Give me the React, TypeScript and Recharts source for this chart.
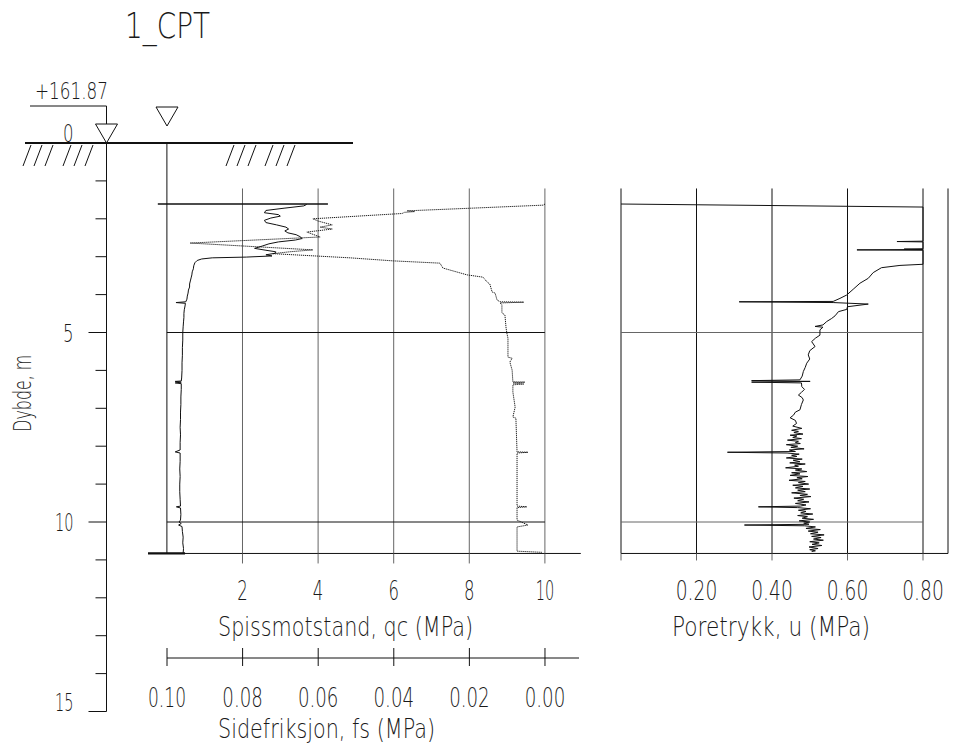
import React from "react";
import {
  CartesianGrid,
  ComposedChart,
  ReferenceLine,
  Scatter,
  XAxis,
  YAxis,
} from "recharts";

// CPT sounding, [depth (m), value]
const QC_PROFILE: [number, number][] = [
  [1.62, 3.7], [1.66, 3.62], [1.72, 3.1], [1.78, 2.62], [1.84, 2.58], [1.89, 2.95],
  [1.93, 3.0], [1.98, 2.75], [2.04, 2.58], [2.1, 2.62], [2.16, 2.9], [2.22, 3.15],
  [2.27, 3.22], [2.32, 3.12], [2.37, 3.2], [2.42, 3.42], [2.47, 3.52], [2.52, 3.58],
  [2.56, 3.4], [2.61, 2.95], [2.66, 2.7], [2.72, 2.52], [2.78, 2.32], [2.83, 2.62],
  [2.87, 2.88], [2.91, 2.86], [2.95, 2.62], [2.98, 2.78], [3.01, 2.1], [3.03, 1.2],
  [3.06, 0.92], [3.1, 0.8], [3.16, 0.74], [3.24, 0.71], [3.32, 0.7], [3.4, 0.67],
  [3.48, 0.66], [3.56, 0.64], [3.64, 0.62], [3.72, 0.6], [3.8, 0.6], [3.88, 0.57],
  [3.96, 0.56], [4.04, 0.54], [4.12, 0.53], [4.19, 0.5], [4.21, 0.24], [4.23, 0.49],
  [4.3, 0.48], [4.4, 0.46], [4.5, 0.45], [4.6, 0.45], [4.72, 0.44], [4.85, 0.43],
  [5.0, 0.42], [5.2, 0.42], [5.4, 0.41], [5.6, 0.41], [5.8, 0.4], [6.0, 0.4],
  [6.2, 0.39], [6.28, 0.38], [6.29, 0.22], [6.31, 0.38], [6.33, 0.22], [6.35, 0.38],
  [6.5, 0.38], [6.7, 0.37], [6.9, 0.37], [7.1, 0.36], [7.3, 0.36], [7.5, 0.35],
  [7.7, 0.36], [7.9, 0.35], [8.1, 0.35], [8.15, 0.22], [8.18, 0.35], [8.4, 0.35],
  [8.6, 0.34], [8.8, 0.35], [9.0, 0.34], [9.2, 0.34], [9.4, 0.35], [9.58, 0.36],
  [9.6, 0.25], [9.63, 0.36], [9.8, 0.37], [9.95, 0.36], [10.0, 0.32], [10.04, 0.38],
  [10.08, 0.31], [10.12, 0.4], [10.25, 0.41], [10.4, 0.43], [10.55, 0.42], [10.7, 0.44],
  [10.82, 0.43],
];

const FS_PROFILE: [number, number][] = [
  [1.61, 0.0], [1.64, 0.0005], [1.72, 0.0195], [1.79, 0.0365], [1.81, 0.0345],
  [1.83, 0.0372], [1.86, 0.0378], [2.0, 0.0614], [2.06, 0.06], [2.16, 0.0563],
  [2.22, 0.0595], [2.27, 0.0563], [2.35, 0.063], [2.48, 0.0595], [2.64, 0.0939],
  [2.82, 0.0614], [2.87, 0.0675], [2.92, 0.072], [3.03, 0.0516], [3.11, 0.0402],
  [3.17, 0.0278], [3.3, 0.027], [3.48, 0.0206], [3.54, 0.0164], [3.67, 0.0153],
  [3.72, 0.0146], [3.93, 0.014], [3.96, 0.0132], [4.14, 0.0127], [4.19, 0.0119],
  [4.2, 0.0056], [4.22, 0.0119], [4.27, 0.0114], [4.48, 0.0114], [4.54, 0.0106],
  [4.88, 0.0103], [5.01, 0.0101], [5.15, 0.0098], [5.65, 0.0098], [5.68, 0.0087],
  [5.78, 0.0093], [5.99, 0.0087], [6.3, 0.0085], [6.31, 0.0053], [6.33, 0.0085],
  [6.36, 0.0056], [6.38, 0.0085], [6.57, 0.0085], [6.97, 0.0079], [7.23, 0.0085],
  [7.26, 0.0077], [8.15, 0.0074], [8.16, 0.0045], [8.18, 0.0074], [9.58, 0.0074],
  [9.6, 0.0048], [9.62, 0.0074], [9.95, 0.0074], [10.08, 0.0045], [10.13, 0.0074],
  [10.77, 0.0074], [10.8, 0.0008],
];

const U_PROFILE: [number, number][] = [
  [1.61, 0.0], [1.69, 0.8], [2.59, 0.8], [2.6, 0.731], [2.61, 0.8], [2.79, 0.8],
  [2.8, 0.75], [2.81, 0.8], [2.82, 0.625], [2.83, 0.8], [3.2, 0.8], [3.23, 0.739],
  [3.29, 0.69], [3.42, 0.668], [3.57, 0.655], [3.7, 0.633], [3.86, 0.615], [4.01, 0.598],
  [4.1, 0.58], [4.18, 0.562], [4.19, 0.313], [4.21, 0.562], [4.25, 0.655], [4.32, 0.6],
  [4.39, 0.598], [4.45, 0.576], [4.56, 0.567], [4.63, 0.558], [4.71, 0.545], [4.8, 0.535],
  [4.84, 0.514], [4.86, 0.535], [4.93, 0.527], [5.07, 0.527], [5.15, 0.515], [5.24, 0.505],
  [5.37, 0.514], [5.48, 0.5], [5.59, 0.496], [5.7, 0.5], [5.81, 0.492], [5.92, 0.488],
  [6.03, 0.483], [6.15, 0.48], [6.25, 0.474], [6.27, 0.346], [6.29, 0.501], [6.31, 0.346],
  [6.33, 0.478], [6.43, 0.479], [6.5, 0.486], [6.58, 0.478], [6.65, 0.47], [6.72, 0.48],
  [6.78, 0.483], [6.9, 0.478], [7.04, 0.474], [7.1, 0.462], [7.18, 0.457], [7.25, 0.448],
  [7.32, 0.462], [7.4, 0.465], [7.47, 0.455], [7.53, 0.479], [7.58, 0.452], [7.61, 0.47],
  [7.64, 0.458], [7.68, 0.482], [7.71, 0.448], [7.73, 0.466], [7.77, 0.455], [7.8, 0.478],
  [7.84, 0.441], [7.87, 0.47], [7.9, 0.462], [7.93, 0.475], [7.96, 0.438], [8.0, 0.468],
  [8.03, 0.45], [8.07, 0.485], [8.1, 0.446], [8.14, 0.462], [8.16, 0.282], [8.18, 0.44],
  [8.21, 0.472], [8.24, 0.452], [8.27, 0.466], [8.31, 0.438], [8.34, 0.48], [8.37, 0.456],
  [8.41, 0.474], [8.44, 0.447], [8.47, 0.488], [8.5, 0.46], [8.53, 0.47], [8.57, 0.436],
  [8.6, 0.479], [8.63, 0.462], [8.67, 0.492], [8.7, 0.452], [8.73, 0.474], [8.77, 0.448],
  [8.8, 0.495], [8.83, 0.466], [8.86, 0.48], [8.9, 0.445], [8.93, 0.488], [8.96, 0.47],
  [9.0, 0.497], [9.03, 0.455], [9.06, 0.482], [9.1, 0.462], [9.13, 0.5], [9.16, 0.468],
  [9.2, 0.488], [9.23, 0.452], [9.27, 0.494], [9.3, 0.474], [9.33, 0.503], [9.37, 0.458],
  [9.4, 0.484], [9.44, 0.468], [9.47, 0.498], [9.51, 0.462], [9.55, 0.49], [9.58, 0.475],
  [9.6, 0.364], [9.62, 0.468], [9.65, 0.502], [9.69, 0.47], [9.72, 0.49], [9.76, 0.476],
  [9.79, 0.508], [9.83, 0.468], [9.86, 0.494], [9.9, 0.48], [9.93, 0.51], [9.97, 0.472],
  [10.0, 0.5], [10.03, 0.484], [10.06, 0.498], [10.08, 0.327], [10.1, 0.486], [10.13, 0.515],
  [10.17, 0.49], [10.2, 0.528], [10.24, 0.496], [10.27, 0.522], [10.31, 0.502], [10.34, 0.538],
  [10.38, 0.505], [10.41, 0.53], [10.45, 0.51], [10.48, 0.536], [10.52, 0.5], [10.55, 0.525],
  [10.59, 0.506], [10.62, 0.532], [10.66, 0.498], [10.7, 0.522], [10.73, 0.5], [10.76, 0.515],
  [10.78, 0.505],
];

const DEPTH_TICKS = [0, 1, 2, 3, 4, 5, 6, 7, 8, 9, 10, 11, 12, 13, 14, 15];
const QC_TICKS = [2, 4, 6, 8, 10];
const FS_TICKS = [0.1, 0.08, 0.06, 0.04, 0.02, 0];
const U_TICKS = [0, 0.2, 0.4, 0.6, 0.8];
const GRID_DEPTHS = [5, 10];

const TITLE = "1_CPT";
const GROUND_LEVEL = "+161.87";
const START_DEPTH = 1.61;
const END_DEPTH = 10.83;

// layout
const W = 957;
const H = 751;
const PX_PER_M = 37.9;
const GROUND_Y = 143;
const TOP_DEPTH = 1.2;
const PLOT_TOP = GROUND_Y + TOP_DEPTH * PX_PER_M;
const PLOT_BOTTOM = GROUND_Y + END_DEPTH * PX_PER_M;
const AXIS_H = 105;

const INK = "#111";
const GRID = "#666";
const FONT = '"DejaVu Sans", sans-serif';
const OPEN = { overflow: "visible" as const };

// narrow drafting lettering: squeeze each string to the width it takes on the drawing
const glyphW = (c: string) => (c === "." ? 7 : c === "1" ? 8 : 10.5);
const digitsWidth = (s: string) => [...s].reduce((w, c) => w + glyphW(c), 0);

type TxtProps = {
  x: number;
  y: number;
  size: number;
  width: number;
  anchor?: "start" | "middle" | "end";
  transform?: string;
  children: React.ReactNode;
};

const Txt = ({ x, y, size, width, anchor = "start", transform, children }: TxtProps) => (
  <text
    x={x}
    y={y}
    fontSize={size}
    fontFamily={FONT}
    fontWeight={200}
    fill="#1a1a1a"
    textAnchor={anchor}
    textLength={width}
    lengthAdjust="spacingAndGlyphs"
    transform={transform}
  >
    {children}
  </text>
);

const noDot = () => <g />;

const DepthTick = ({ x, y, payload }: any) => {
  const d = payload.value;
  const major = d % 5 === 0;
  const len = major ? 18 : 11;
  // surface and bottom labels sit on their tick, the others are centred on it
  const base = d === 0 || d === 15 ? y - 1 : y + 9;
  const s = String(d);
  return (
    <g>
      {d > 0 && <line x1={x - len} x2={x} y1={y} y2={y} stroke={INK} />}
      {major && (
        <Txt x={x - 33} y={base} size={25} width={digitsWidth(s)} anchor="end">
          {s}
        </Txt>
      )}
    </g>
  );
};

const DepthTitle = ({ viewBox }: any) => {
  const x = viewBox.x + 4;
  const y = viewBox.y + viewBox.height / 2 - 34;
  return (
    <Txt x={x} y={y} size={25} width={77} anchor="middle" transform={`rotate(-90, ${x}, ${y})`}>
      Dybde, m
    </Txt>
  );
};

const QcTick = ({ x, y, payload }: any) => {
  const s = String(payload.value);
  return (
    <Txt x={x} y={y + 37} size={27} width={digitsWidth(s)} anchor="middle">
      {s}
    </Txt>
  );
};

const UTick = ({ x, y, payload }: any) => {
  if (payload.value <= 0) return <g />;
  const s = payload.value.toFixed(2);
  return (
    <Txt x={x} y={y + 40} size={27} width={digitsWidth(s) + 3} anchor="middle">
      {s}
    </Txt>
  );
};

const FsTick = ({ x, y, payload }: any) => {
  const s = payload.value.toFixed(2);
  return (
    <g>
      <line x1={x} x2={x} y1={y - 10} y2={y + 8} stroke={INK} />
      <Txt x={x} y={y + 49} size={27} width={digitsWidth(s) + 2} anchor="middle">
        {s}
      </Txt>
    </g>
  );
};

const axisTitle = (text: string, width: number, dx: number, dy: number) => ({ viewBox }: any) => (
  <Txt x={viewBox.x + dx} y={viewBox.y + dy} size={27} width={width}>
    {text}
  </Txt>
);

function DepthAxis() {
  const rows = DEPTH_TICKS.map((d) => ({ d }));
  return (
    <ComposedChart
      width={200}
      height={H}
      data={rows}
      style={OPEN}
      margin={{ top: GROUND_Y, bottom: H - (GROUND_Y + 15 * PX_PER_M), left: 26.5, right: 60 }}
    >
      <XAxis hide type="number" height={0} />
      <YAxis
        dataKey="d"
        type="number"
        domain={[0, 15]}
        reversed
        allowDataOverflow
        ticks={DEPTH_TICKS}
        interval={0}
        width={80}
        tickSize={0}
        tickMargin={0}
        tickLine={false}
        axisLine={{ stroke: INK }}
        tick={DepthTick}
        label={DepthTitle}
      />
    </ComposedChart>
  );
}

function QcFsPanel() {
  const qcData = QC_PROFILE.map(([d, v]) => ({ d, qc: v }));
  const fsData = FS_PROFILE.map(([d, v]) => ({ d, fs: v }));
  return (
    <ComposedChart
      width={600}
      height={H}
      style={OPEN}
      margin={{ top: PLOT_TOP, right: 19.2, bottom: H - PLOT_BOTTOM - AXIS_H, left: 148 }}
    >
      <XAxis
        xAxisId="qc"
        dataKey="qc"
        type="number"
        domain={[-0.5, 10.95]}
        allowDataOverflow
        ticks={QC_TICKS}
        interval={0}
        height={AXIS_H}
        tickSize={10}
        tickMargin={0}
        tickLine={{ stroke: GRID }}
        axisLine={{ stroke: INK }}
        tick={QcTick}
        label={axisTitle("Spissmotstand, qc (MPa)", 255, 70, 82.5)}
      />
      <XAxis
        xAxisId="fs"
        dataKey="fs"
        type="number"
        orientation="top"
        height={0}
        domain={[-0.00947, 0.10503]}
        reversed
        allowDataOverflow
        hide
      />
      <YAxis yAxisId="d" dataKey="d" type="number" width={0} domain={[TOP_DEPTH, END_DEPTH]} reversed allowDataOverflow hide />
      {QC_TICKS.map((q) => (
        <ReferenceLine
          key={q}
          xAxisId="qc"
          yAxisId="d"
          segment={[{ x: q, y: TOP_DEPTH }, { x: q, y: END_DEPTH }]}
          stroke={GRID}
        />
      ))}
      {GRID_DEPTHS.map((d) => (
        <ReferenceLine
          key={d}
          xAxisId="qc"
          yAxisId="d"
          segment={[{ x: 0, y: d }, { x: 10, y: d }]}
          stroke={INK}
        />
      ))}
      <ReferenceLine
        xAxisId="qc"
        yAxisId="d"
        segment={[{ x: 0, y: 0 }, { x: 0, y: END_DEPTH }]}
        ifOverflow="visible"
        stroke={INK}
      />
      <ReferenceLine
        xAxisId="qc"
        yAxisId="d"
        segment={[{ x: -0.24, y: START_DEPTH }, { x: 4.26, y: START_DEPTH }]}
        stroke={INK}
        strokeWidth={1.6}
      />
      <ReferenceLine
        xAxisId="qc"
        yAxisId="d"
        segment={[{ x: -0.5, y: END_DEPTH }, { x: 0.48, y: END_DEPTH }]}
        stroke={INK}
        strokeWidth={2.2}
      />
      <Scatter
        data={fsData}
        xAxisId="fs"
        yAxisId="d"
        fill="none"
        shape={noDot}
        line={{ stroke: "#1a1a1a", strokeWidth: 1, strokeDasharray: "1.2 0.8" }}
        isAnimationActive={false}
      />
      <Scatter
        data={qcData}
        xAxisId="qc"
        yAxisId="d"
        fill="none"
        shape={noDot}
        line={{ stroke: INK, strokeWidth: 1 }}
        isAnimationActive={false}
      />
    </ComposedChart>
  );
}

function FsAxis() {
  const rows = FS_TICKS.map((fs) => ({ fs }));
  return (
    <ComposedChart
      width={600}
      height={H}
      data={rows}
      style={OPEN}
      margin={{ top: 600, right: 21, bottom: 3, left: 167 }}
    >
      <XAxis
        dataKey="fs"
        type="number"
        domain={[-0.009, 0.1]}
        reversed
        allowDataOverflow
        ticks={FS_TICKS}
        interval={0}
        height={H - 3 - 658}
        tickSize={0}
        tickMargin={0}
        tickLine={false}
        axisLine={{ stroke: INK }}
        tick={FsTick}
        label={axisTitle("Sidefriksjon, fs (MPa)", 217, 51, 80)}
      />
      <YAxis hide width={0} />
    </ComposedChart>
  );
}

function PorePressurePanel() {
  const uData = U_PROFILE.map(([d, v]) => ({ d, u: v }));
  return (
    <ComposedChart
      width={357}
      height={H}
      style={OPEN}
      margin={{ top: PLOT_TOP, right: 9, bottom: H - PLOT_BOTTOM - AXIS_H, left: 21 }}
    >
      <XAxis
        xAxisId="u"
        dataKey="u"
        type="number"
        domain={[0, 0.8662]}
        allowDataOverflow
        ticks={U_TICKS}
        interval={0}
        height={AXIS_H}
        tickSize={7}
        tickMargin={0}
        tickLine={{ stroke: GRID }}
        axisLine={{ stroke: INK }}
        tick={UTick}
        label={axisTitle("Poretrykk, u (MPa)", 198, 51, 82.5)}
      />
      <YAxis yAxisId="d" dataKey="d" type="number" width={0} domain={[TOP_DEPTH, END_DEPTH]} reversed allowDataOverflow hide />
      <CartesianGrid xAxisId="u" yAxisId="d" horizontal={false} stroke={INK} />
      {GRID_DEPTHS.map((d) => (
        <ReferenceLine
          key={d}
          xAxisId="u"
          yAxisId="d"
          segment={[{ x: 0, y: d }, { x: 0.8, y: d }]}
          stroke={GRID}
        />
      ))}
      <Scatter
        data={uData}
        xAxisId="u"
        yAxisId="d"
        fill="none"
        shape={noDot}
        line={{ stroke: INK, strokeWidth: 1 }}
        isAnimationActive={false}
      />
    </ComposedChart>
  );
}

// ground surface, hatching and level markers
const HATCH_X = [23, 34, 45, 63, 74, 85, 226, 237, 248, 265, 276, 287];

function Surface() {
  return (
    <svg width={W} height={H} style={{ position: "absolute", left: 0, top: 0 }}>
      <Txt x={125} y={38} size={36} width={85}>
        {TITLE}
      </Txt>
      <Txt x={35} y={99} size={23} width={73}>
        {GROUND_LEVEL}
      </Txt>
      <polyline points="30,106 106.5,106 106.5,124" fill="none" stroke={INK} />
      <polygon points="95.5,124 117.5,124 106.5,143" fill="none" stroke={INK} />
      <polygon points="156,107 178,107 167,126" fill="none" stroke={INK} />
      <line x1={25} x2={353} y1={GROUND_Y} y2={GROUND_Y} stroke={INK} strokeWidth={2} />
      {HATCH_X.map((x) => (
        <line key={x} x1={x} y1={166} x2={x + 8} y2={145} stroke={INK} />
      ))}
    </svg>
  );
}

export default function App() {
  return (
    <div style={{ position: "absolute", left: 0, top: 0, width: W, height: H, background: "#fff" }}>
      <div style={{ position: "absolute", left: 0, top: 0 }}>
        <DepthAxis />
      </div>
      <div style={{ position: "absolute", left: 0, top: 0 }}>
        <FsAxis />
      </div>
      <div style={{ position: "absolute", left: 0, top: 0 }}>
        <QcFsPanel />
      </div>
      <div style={{ position: "absolute", left: 600, top: 0 }}>
        <PorePressurePanel />
      </div>
      <Surface />
    </div>
  );
}
